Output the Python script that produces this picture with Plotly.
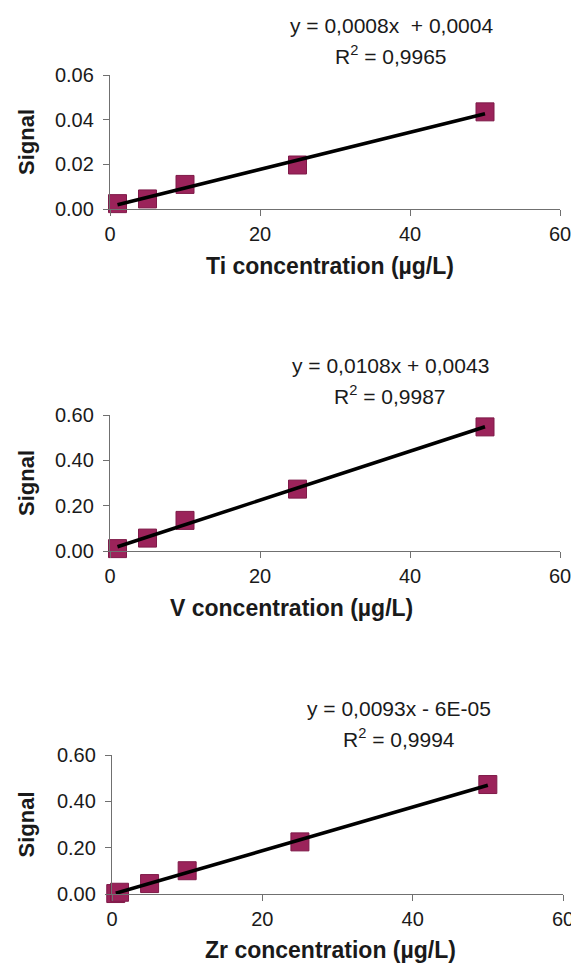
import numpy as np
import plotly.graph_objects as go

# ---------------- data ----------------
conc_ti = [1, 5, 10, 25, 50]
signal_ti = [0.0024, 0.0045, 0.0110, 0.0197, 0.0435]

conc_v = [1, 5, 10, 25, 50]
signal_v = [0.0105, 0.057, 0.135, 0.273, 0.5475]

conc_zr = [0.5, 1, 5, 10, 25, 50]
signal_zr = [0.002, 0.0075, 0.045, 0.1005, 0.225, 0.4725]

x_ticks = [0, 20, 40, 60]
x_titles = ["Ti concentration (µg/L)", "V concentration (µg/L)", "Zr concentration (µg/L)"]
eq_texts = ["y = 0,0008x  + 0,0004", "y = 0,0108x + 0,0043", "y = 0,0093x - 6E-05"]
r2_texts = ["R<sup>2</sup> = 0,9965", "R<sup>2</sup> = 0,9987", "R<sup>2</sup> = 0,9994"]
y_ranges = [[0, 0.06], [0, 0.6], [0, 0.6]]
y_dticks = [0.02, 0.2, 0.2]

# ---------------- layout geometry (page pixels) ----------------
PAGE_W, PAGE_H = 579, 964
OFF = 8  # default body margin of the html page
W, H = PAGE_W - OFF, PAGE_H - OFF
panels = [
    dict(x0=110, x1=560, ybot=209, ytop=75, eq_x=391, eq_y=25, r2_y=55, tt_x=330, tt_y=266),
    dict(x0=110, x1=560, ybot=551, ytop=415, eq_x=390, eq_y=365, r2_y=395, tt_x=291, tt_y=608),
    dict(x0=112, x1=563, ybot=894, ytop=755, eq_x=399, eq_y=708, r2_y=738, tt_x=330, tt_y=950),
]

FONT = "Liberation Sans, Arial, sans-serif"
MARK = "#9B235A"
AXC = "#707070"
TXT = "#1a1a1a"

def px(x):
    return (x - OFF) / W

def py(y):
    return 1 - (y - OFF) / H

series = [(conc_ti, signal_ti), (conc_v, signal_v), (conc_zr, signal_zr)]

fig = go.Figure()
annotations = []
layout_axes = {}

for i, ((xs, ys), p) in enumerate(zip(series, panels)):
    n = "" if i == 0 else str(i + 1)
    xa, ya = "x" + n, "y" + n

    # trendline (least squares of the data, drawn over the data range)
    k, b = np.polyfit(xs, ys, 1)
    lx = [min(xs), max(xs)]
    ly = [k * v + b for v in lx]

    fig.add_trace(go.Scatter(
        x=xs, y=ys, mode="markers", xaxis=xa, yaxis=ya,
        marker=dict(symbol="square", size=18, color=MARK,
                    line=dict(color="#7E1A48", width=1)),
        cliponaxis=False, showlegend=False, hoverinfo="skip"))
    fig.add_trace(go.Scatter(
        x=lx, y=ly, mode="lines", xaxis=xa, yaxis=ya,
        line=dict(color="black", width=3.5),
        cliponaxis=False, showlegend=False, hoverinfo="skip"))

    layout_axes["xaxis" + n] = dict(
        domain=[px(p["x0"]), px(p["x1"])], anchor=ya, range=[0, 60],
        tickvals=x_ticks, ticktext=[str(t) for t in x_ticks],
        ticks="outside", ticklen=6, tickwidth=1.3, tickcolor=AXC,
        showline=True, linecolor=AXC, linewidth=1.3,
        showgrid=False, zeroline=False, automargin=False,
        ticklabelstandoff=1,
        tickfont=dict(family=FONT, size=20, color=TXT))
    layout_axes["yaxis" + n] = dict(
        domain=[py(p["ybot"]), py(p["ytop"])], anchor=xa, range=y_ranges[i],
        dtick=y_dticks[i], tick0=0, tickformat=".2f",
        ticks="outside", ticklen=6, tickwidth=1.3, tickcolor=AXC,
        showline=True, linecolor=AXC, linewidth=1.3,
        showgrid=False, zeroline=False, automargin=False,
        ticklabelstandoff=5,
        tickfont=dict(family=FONT, size=20, color=TXT))

    annotations += [
        dict(text=eq_texts[i], x=px(p["eq_x"]), y=py(p["eq_y"]), xref="paper", yref="paper",
             xanchor="center", yanchor="middle", showarrow=False,
             font=dict(family=FONT, size=21, color=TXT)),
        dict(text=r2_texts[i], x=px(p["eq_x"]), y=py(p["r2_y"]), xref="paper", yref="paper",
             xanchor="center", yanchor="middle", showarrow=False,
             font=dict(family=FONT, size=21, color=TXT)),
        dict(text="<b>" + x_titles[i] + "</b>", x=px(p["tt_x"]), y=py(p["tt_y"]),
             xref="paper", yref="paper", xanchor="center", yanchor="middle", showarrow=False,
             font=dict(family=FONT, size=23, color=TXT)),
        dict(text="<b>Signal</b>", x=px(26), y=py((p["ybot"] + p["ytop"]) / 2),
             xref="paper", yref="paper", xanchor="center", yanchor="middle", showarrow=False,
             textangle=-90, font=dict(family=FONT, size=22, color=TXT)),
    ]

fig.update_layout(
    width=W, height=H, autosize=False,
    margin=dict(l=0, r=0, t=0, b=0),
    paper_bgcolor="white", plot_bgcolor="white",
    annotations=annotations,
    **layout_axes)

fig.write_html("out.html")
